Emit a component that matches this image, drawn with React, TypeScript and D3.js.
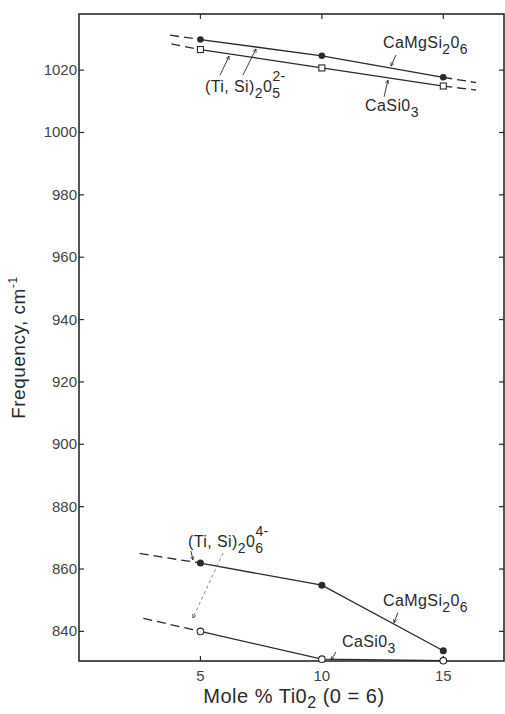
import React from 'react';
import * as d3 from 'd3';

// mole % TiO2 where the spectra were taken
const moleTiO2 = [5, 10, 15];

// upper band, (Ti,Si)2O5 2- stretching
const upperCaMgSi2O6 = [1029.8, 1024.6, 1017.7];
const upperCaSiO3 = [1026.6, 1020.7, 1014.9];
// dashed extrapolations [x, y]
const upperCaMgSi2O6Ext = [[3.75, 1031.2], [16.35, 1016.0]];
const upperCaSiO3Ext = [[3.8, 1028.4], [16.35, 1013.6]];

// lower band, (Ti,Si)2O6 4- stretching
const lowerCaMgSi2O6 = [861.9, 854.8, 833.8];
const lowerCaSiO3 = [840.0, 831.1, 830.6];
const lowerCaMgSi2O6Ext = [[2.5, 865.0]];
const lowerCaSiO3Ext = [[2.65, 844.2]];

const yTicks = [840, 860, 880, 900, 920, 940, 960, 980, 1000, 1020];
const xTicks = [5, 10, 15];

// annotation labels, in data units
const labels = [
  { x: 12.52, y: 1027.1, parts: [['CaMgSi', ''], ['2', 'sub'], ['0', ''], ['6', 'sub']] },
  { x: 11.78, y: 1006.9, parts: [['CaSi0', ''], ['3', 'sub']] },
  { x: 5.19, y: 1013.0, parts: [['(Ti, Si)', ''], ['2', 'sub'], ['0', ''], ['5', 'sub'], ['2-', 'sup']] },
  { x: 4.49, y: 867.0, parts: [['(Ti, Si)', ''], ['2', 'sub'], ['0', ''], ['6', 'sub'], ['4-', 'sup']] },
  { x: 12.52, y: 848.1, parts: [['CaMgSi', ''], ['2', 'sub'], ['0', ''], ['6', 'sub']] },
  { x: 10.83, y: 835.0, parts: [['CaSi0', ''], ['3', 'sub']] },
];

// leader arrows [x1, y1, x2, y2, dashed]
const leaders = [
  [13.05, 1024.85, 12.85, 1021.3, 0],
  [12.56, 1011.4, 12.72, 1016.8, 0],
  [5.81, 1018.4, 6.18, 1024.5, 0],
  [6.75, 1018.4, 7.29, 1026.8, 0],
  [4.61, 865.8, 4.69, 862.9, 0],
  [5.93, 865.1, 4.69, 844.3, 1],
  [13.13, 846.0, 12.97, 842.7, 0],
  [10.58, 833.4, 10.38, 830.8, 0],
];

const W = 505;
const H = 714;
const left = 79, right = 504, top = 14, bottom = 661;
const ink = '#2a2a2a';
const font = '"Liberation Sans", Arial, Helvetica, sans-serif';

const x = d3.scaleLinear().domain([0, 17.5]).range([left, right]);
const y = d3.scaleLinear().domain([830.5, 1038]).range([bottom, top]);

const line = d3.line<number[]>().x(d => x(d[0])).y(d => y(d[1]));

const pts = (vals: number[]) => moleTiO2.map((m, i) => [m, vals[i]]);

const Label = ({ l }: { l: any }) => {
  const tspans: any[] = [];
  let shift = 0;
  l.parts.forEach(([t, kind]: string[], i: number) => {
    const target = kind === 'sub' ? 6 : kind === 'sup' ? -11 : 0;
    const dy = target - shift;
    shift = target;
    // superscript is stacked over the preceding subscript
    const dx = kind === 'sup' ? -8 : 0;
    tspans.push(
      <tspan key={i} dx={dx} dy={dy} fontSize={kind ? 14 : 16}>{t}</tspan>
    );
  });
  return (
    <text x={x(l.x)} y={y(l.y)} fill={ink} fontFamily={font} fontSize={16} letterSpacing={0.4}>
      {tspans}
    </text>
  );
};

export default function App() {
  return (
    <svg width={W} height={H} style={{ position: 'absolute', left: 0, top: 0, background: '#fff' }}>
      <defs>
        <marker id="arr" viewBox="0 0 10 10" refX="9" refY="5" markerWidth="5" markerHeight="5" orient="auto">
          <path d="M1,1 L9,5 L1,9" fill="none" stroke={ink} strokeWidth={1.6} />
        </marker>
      </defs>

      {/* frame */}
      <rect x={left} y={top} width={right - left} height={bottom - top} fill="none" stroke={ink} strokeWidth={1.6} />

      {/* y ticks, inward on both sides */}
      {yTicks.map(t => (
        <g key={t}>
          <line x1={left} x2={left + 5} y1={y(t)} y2={y(t)} stroke={ink} strokeWidth={1.2} />
          <line x1={right - 5} x2={right} y1={y(t)} y2={y(t)} stroke={ink} strokeWidth={1.2} />
          <text x={left - 2} y={y(t) + 5} textAnchor="end" fontFamily={font} fontSize={15} fill="#444">{t}</text>
        </g>
      ))}

      {/* x ticks, inward top and bottom */}
      {xTicks.map(t => (
        <g key={t}>
          <line x1={x(t)} x2={x(t)} y1={bottom} y2={bottom - 5} stroke={ink} strokeWidth={1.2} />
          <line x1={x(t)} x2={x(t)} y1={top} y2={top + 5} stroke={ink} strokeWidth={1.2} />
          <text x={x(t)} y={bottom + 20} textAnchor="middle" fontFamily={font} fontSize={15} fill="#444">{t}</text>
        </g>
      ))}

      {/* axis titles */}
      <text x={x(8.85)} y={703} textAnchor="middle" fontFamily={font} fontSize={20} fill={ink} letterSpacing={0.5}>
        Mole % Ti0<tspan dy={5} fontSize={16}>2</tspan><tspan dy={-5}> (0 = 6)</tspan>
      </text>
      <text transform={`translate(25, ${y(931)}) rotate(-90)`} textAnchor="middle" fontFamily={font} fontSize={19} fill={ink} letterSpacing={0.5}>
        Frequency, cm<tspan dy={-8} fontSize={12}>-1</tspan>
      </text>

      {/* solid series */}
      {[upperCaMgSi2O6, upperCaSiO3, lowerCaMgSi2O6, lowerCaSiO3].map((s, i) => (
        <path key={i} d={line(pts(s)) || ''} fill="none" stroke={ink} strokeWidth={1.3} />
      ))}

      {/* dashed extrapolations */}
      {[
        [upperCaMgSi2O6Ext[0], [5, upperCaMgSi2O6[0]]],
        [[15, upperCaMgSi2O6[2]], upperCaMgSi2O6Ext[1]],
        [upperCaSiO3Ext[0], [5, upperCaSiO3[0]]],
        [[15, upperCaSiO3[2]], upperCaSiO3Ext[1]],
        [lowerCaMgSi2O6Ext[0], [5, lowerCaMgSi2O6[0]]],
        [lowerCaSiO3Ext[0], [5, lowerCaSiO3[0]]],
      ].map((seg, i) => (
        <path key={i} d={line(seg) || ''} fill="none" stroke={ink} strokeWidth={1.3} strokeDasharray="9 5" />
      ))}

      {/* markers */}
      {pts(upperCaMgSi2O6).map((p, i) => (
        <circle key={'a' + i} cx={x(p[0])} cy={y(p[1])} r={3.3} fill={ink} />
      ))}
      {pts(upperCaSiO3).map((p, i) => (
        <rect key={'b' + i} x={x(p[0]) - 3} y={y(p[1]) - 3} width={6} height={6} fill="#fff" stroke={ink} strokeWidth={1.1} />
      ))}
      {pts(lowerCaMgSi2O6).map((p, i) => (
        <circle key={'c' + i} cx={x(p[0])} cy={y(p[1])} r={3.5} fill={ink} />
      ))}
      {pts(lowerCaSiO3).map((p, i) => (
        <circle key={'d' + i} cx={x(p[0])} cy={y(p[1])} r={3.3} fill="#fff" stroke={ink} strokeWidth={1.1} />
      ))}

      {/* leaders */}
      {leaders.map((l, i) => (
        <line key={i} x1={x(l[0])} y1={y(l[1])} x2={x(l[2])} y2={y(l[3])} stroke={l[4] ? '#777' : ink}
          strokeWidth={0.9} strokeDasharray={l[4] ? '3 3' : undefined} markerEnd="url(#arr)" />
      ))}

      {labels.map((l, i) => <Label key={i} l={l} />)}
    </svg>
  );
}
